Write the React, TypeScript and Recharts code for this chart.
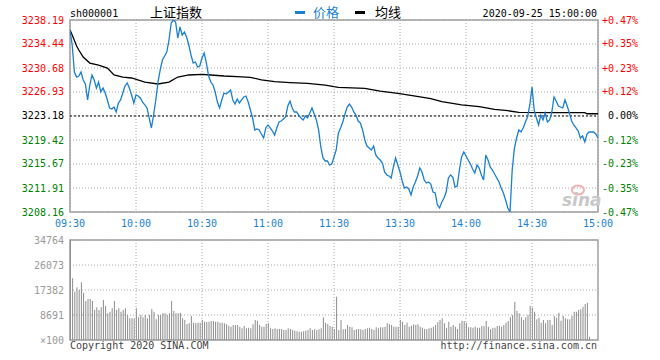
import React from 'react';
import {
  LineChart,
  Line,
  BarChart,
  Bar,
  XAxis,
  YAxis,
  CartesianGrid,
  ReferenceLine,
  ReferenceArea,
} from 'recharts';

const prevClose = 3223.18;

const timeTicks = [0, 30, 60, 90, 120, 150, 180, 210, 240];
const timeLabels = ['09:30', '10:00', '10:30', '11:00', '11:30', '13:30', '14:00', '14:30', '15:00'];

const priceTicks = [3208.16, 3211.91, 3215.67, 3219.42, 3223.18, 3226.93, 3230.68, 3234.44, 3238.19];
const pctLabels = ['-0.47%', '-0.35%', '-0.23%', '-0.12%', '0.00%', '+0.12%', '+0.23%', '+0.35%', '+0.47%'];

const volTicks = [0, 8691, 17382, 26073, 34764];
const volLabels = ['\u00d7100', '8691', '17382', '26073', '34764'];

// one price per minute, 09:30 .. 11:30 then 13:01 .. 15:00
const prices = [
  3236.63, 3234.28, 3230.06, 3229.27, 3229.43, 3230.06, 3228.81, 3228.18, 3225.68, 3228.02,
  3229.59, 3228.81, 3227.55, 3228.49, 3226.93, 3227.55, 3226.77, 3225.68, 3224.43, 3224.27,
  3224.58, 3223.80, 3225.21, 3225.68, 3226.77, 3227.87, 3228.34, 3227.55, 3226.46, 3225.21,
  3226.46, 3226.30, 3225.99, 3225.36, 3224.90, 3224.43, 3222.86, 3221.30, 3223.33, 3225.68,
  3228.49, 3230.37, 3231.93, 3232.56, 3233.18, 3235.06, 3237.72, 3238.19, 3237.88, 3235.37,
  3237.10, 3235.84, 3236.31, 3235.53, 3234.28, 3232.72, 3231.46, 3231.62, 3230.84, 3231.00,
  3232.25, 3233.03, 3231.46, 3229.43, 3228.49, 3228.02, 3226.93, 3225.36, 3224.43, 3225.68,
  3226.77, 3226.62, 3226.93, 3227.24, 3225.68, 3225.05, 3225.83, 3225.21, 3225.68, 3226.15,
  3226.30, 3225.36, 3224.11, 3222.86, 3220.99, 3221.14, 3220.99, 3220.36, 3219.73, 3221.30,
  3221.77, 3221.30, 3220.83, 3220.20, 3221.30, 3222.24, 3222.39, 3222.71, 3223.02, 3224.74,
  3225.52, 3224.43, 3223.80, 3223.80, 3223.33, 3222.86, 3222.55, 3223.18, 3222.86, 3223.64,
  3224.43, 3223.49, 3222.55, 3220.99, 3218.33, 3216.61, 3216.14, 3216.14, 3215.51, 3215.67,
  3216.76, 3217.86, 3220.52, 3221.30, 3222.24, 3223.49, 3224.58, 3225.05, 3224.58, 3223.80,
  3223.33, 3222.39, 3222.08, 3220.99, 3219.42, 3218.48, 3218.17, 3217.86, 3218.48, 3217.08,
  3216.61, 3216.29, 3215.82, 3214.42, 3213.95, 3213.79, 3213.48, 3215.20, 3216.61, 3215.51,
  3214.42, 3213.01, 3211.91, 3212.07, 3211.76, 3210.82, 3212.07, 3212.85, 3213.79, 3215.04,
  3214.42, 3213.16, 3212.70, 3212.85, 3212.54, 3211.29, 3211.13, 3209.25, 3208.79, 3209.72,
  3210.35, 3211.29, 3213.48, 3213.95, 3213.63, 3212.07, 3212.23, 3214.73, 3216.76, 3217.54,
  3216.92, 3216.29, 3215.67, 3214.89, 3214.26, 3215.51, 3215.04, 3213.95, 3213.16, 3217.08,
  3216.29, 3215.20, 3214.73, 3214.10, 3213.48, 3212.85, 3211.91, 3211.13, 3210.04, 3208.79,
  3208.16, 3214.73, 3218.17, 3219.73, 3220.99, 3220.67, 3221.30, 3222.24, 3223.02, 3224.90,
  3227.71, 3224.11, 3222.86, 3221.77, 3223.33, 3222.55, 3223.64, 3222.24, 3222.55, 3223.80,
  3226.15, 3225.52, 3224.74, 3224.58, 3224.43, 3225.68, 3224.74, 3223.64, 3222.39, 3221.77,
  3221.30, 3220.83, 3219.73, 3220.05, 3219.11, 3220.36, 3220.67, 3220.67, 3220.67, 3220.36,
  3219.73,
];

// average price line, read at the minutes where it bends
const avgMinutes = [
  0, 1, 3, 4, 6, 9, 13, 17, 20, 24, 28, 34, 40, 45, 49, 54, 60, 64, 70, 76, 82,
  87, 93, 100, 108, 116, 120, 122, 134, 141, 149, 157, 164, 169, 178, 186, 193,
  199, 204, 219, 234, 235, 240,
];
const avgValues = [
  3236.63, 3235.84, 3234.12, 3233.50, 3232.40, 3231.46, 3231.15, 3230.68, 3229.59, 3229.27,
  3229.12, 3228.49, 3228.18, 3228.49, 3229.27, 3229.59, 3229.70, 3229.59, 3229.43, 3229.32,
  3229.23, 3228.81, 3228.54, 3228.41, 3228.29, 3228.02, 3227.76, 3227.66, 3227.51, 3227.08,
  3226.72, 3226.30, 3225.91, 3225.41, 3224.90, 3224.63, 3224.22, 3224.00, 3223.75, 3223.69,
  3223.69, 3223.53, 3223.53,
];

// volume per minute, in hundreds
const volumes = [
  34764, 21450, 16800, 18310, 17380, 20050, 16450, 13560, 14250, 14250,
  13560, 10430, 11360, 10430, 11360, 13900, 11820, 9270, 9850, 11010,
  13560, 10430, 11010, 9850, 10430, 11010, 8690, 7530, 7530, 7530,
  11010, 7880, 8690, 7880, 8690, 7530, 8690, 10780, 9850, 7180,
  8690, 8690, 9270, 9270, 8690, 9270, 13560, 10080, 9270, 9270,
  9500, 7530, 6950, 5560, 5790, 8340, 6030, 5790, 6030, 6030,
  6950, 6370, 6260, 6370, 6600, 6600, 6370, 6370, 6030, 6030,
  5790, 5450, 4980, 4640, 5210, 5210, 5210, 4640, 4060, 4870,
  4060, 4290, 4060, 5450, 6950, 6720, 5210, 4640, 4640, 5560,
  5790, 4060, 3820, 4060, 3820, 3820, 3820, 3480, 3480, 4060,
  3820, 3480, 3240, 3010, 2900, 2900, 3010, 3240, 3480, 4060,
  3480, 3710, 3480, 3710, 4060, 7880, 6030, 5560, 4870, 4640,
  3820, 15064, 3476, 6953, 3708, 3824, 5215, 4635, 4403, 3476,
  3708, 3824, 3708, 3476, 3824, 4056, 4288, 3824, 3476, 4403,
  4056, 4403, 4403, 4635, 5794, 5446, 5215, 4635, 4635, 4635,
  6953, 6373, 5215, 6026, 4635, 4983, 5446, 5215, 5446, 4635,
  4288, 3824, 3708, 4056, 4288, 4635, 5215, 6142, 6953, 7532,
  5794, 4288, 6373, 4635, 5215, 4635, 3824, 5794, 6721, 6605,
  6026, 4403, 4403, 4288, 4635, 4288, 4288, 4867, 4867, 6605,
  4635, 3708, 4288, 4288, 4867, 4983, 4635, 5215, 6026, 6605,
  7880, 8691, 13326, 10082, 9270, 7880, 6953, 7880, 8691, 11820,
  11240, 9850, 7185, 7764, 6026, 6953, 5794, 6953, 6953, 5215,
  8343, 7764, 9502, 6721, 8343, 7532, 7185, 7185, 8343, 9850,
  9850, 10429, 10661, 11588, 12515, 12979, 1159, 0, 0, 0,
  0,
];

const priceData = prices.map((p, m) => ({ m, price: p }));
const avgData = avgMinutes.map((m, i) => ({ m, avg: avgValues[i] }));
const volData = volumes.map((v, m) => ({ m, vol: v }));

const MONO = '"DejaVu Sans Mono", "Liberation Mono", monospace';
const CJK = '"Noto Sans CJK SC", sans-serif';
const BLUE = '#1a7fd0';
const RED = '#ff0000';
const GREEN = '#008000';
const GRID = '#a8a8a8';
const FRAME = '#a0a0a0';

const colorFor = (v: number) => (v > prevClose + 0.001 ? RED : v < prevClose - 0.001 ? GREEN : '#000');

const PriceTick = ({ x, y, payload }: any) => (
  <text x={x} y={y} dy={3.5} textAnchor="end" fontSize={10} fontFamily={MONO} fill={colorFor(payload.value)}>
    {payload.value.toFixed(2)}
  </text>
);

const PctTick = ({ x, y, payload, index }: any) => (
  <text x={x + 34} y={y} dy={3.5} textAnchor="end" fontSize={10} fontFamily={MONO} fill={colorFor(payload.value)}>
    {pctLabels[index]}
  </text>
);

const TimeTick = ({ x, y, index }: any) => (
  <text x={x} y={y} dy={15} textAnchor="middle" fontSize={10} fontFamily={MONO} fill={BLUE}>
    {timeLabels[index]}
  </text>
);

const VolTick = ({ x, y, index }: any) => (
  <text x={x} y={y} dy={3.5} textAnchor="end" fontSize={10} fontFamily={MONO} fill="#999">
    {volLabels[index]}
  </text>
);

export default function App() {
  return (
    <div style={{ position: 'absolute', left: 0, top: 0, width: 660, height: 360, background: '#fff' }}>
      <div style={{ position: 'absolute', left: 0, top: 0 }}>
        <LineChart width={660} height={235} margin={{ top: 20, right: 0, bottom: 3, left: 0 }}>
          <CartesianGrid stroke={GRID} strokeDasharray="1 2" yAxisId="p" />
          <XAxis
            type="number"
            dataKey="m"
            domain={[0, 240]}
            ticks={timeTicks}
            interval={0}
            height={20}
            axisLine={false}
            tickLine={false}
            tickSize={0}
            tickMargin={0}
            tick={<TimeTick />}
            allowDataOverflow
          />
          <YAxis
            yAxisId="p"
            domain={[3208.16, 3238.19]}
            ticks={priceTicks}
            interval={0}
            width={70}
            axisLine={false}
            tickLine={false}
            tickSize={0}
            tickMargin={6}
            tick={<PriceTick />}
            allowDataOverflow
          />
          <YAxis
            yAxisId="pct"
            orientation="right"
            domain={[3208.16, 3238.19]}
            ticks={priceTicks}
            interval={0}
            width={62}
            axisLine={false}
            tickLine={false}
            tickSize={0}
            tickMargin={6}
            tick={<PctTick />}
            allowDataOverflow
          />
          <ReferenceArea
            yAxisId="p"
            x1={0}
            x2={240}
            y1={3208.16}
            y2={3238.19}
            fill="none"
            stroke={FRAME}
            strokeWidth={1.5}
          />
          <ReferenceLine yAxisId="p" y={prevClose} stroke="#000" strokeDasharray="2 2" />
          <Line
            yAxisId="p"
            data={avgData}
            dataKey="avg"
            type="linear"
            stroke="#000"
            strokeWidth={1.3}
            dot={false}
            isAnimationActive={false}
          />
          <Line
            yAxisId="p"
            data={priceData}
            dataKey="price"
            type="linear"
            stroke={BLUE}
            strokeWidth={1.3}
            dot={false}
            isAnimationActive={false}
          />
        </LineChart>
      </div>

      <div style={{ position: 'absolute', left: 0, top: 230 }}>
        <BarChart width={660} height={120} data={volData} margin={{ top: 10, right: 62, bottom: 10, left: 0 }}>
          <CartesianGrid stroke={GRID} strokeDasharray="1 2" vertical={false} />
          <XAxis
            type="number"
            dataKey="m"
            domain={[0, 240]}
            ticks={timeTicks}
            interval={0}
            height={0}
            axisLine={false}
            tickLine={false}
            tick={false}
          />
          <YAxis
            domain={[0, 34764]}
            ticks={volTicks}
            interval={0}
            width={70}
            axisLine={false}
            tickLine={false}
            tickSize={0}
            tickMargin={6}
            tick={<VolTick />}
          />
          {timeTicks.slice(1, -1).map((t) => (
            <ReferenceLine key={t} x={t} stroke={GRID} strokeDasharray="1 2" />
          ))}
          <ReferenceArea x1={0} x2={240} y1={0} y2={34764} fill="none" stroke={FRAME} strokeWidth={1.5} />
          <Bar dataKey="vol" fill="#8c8c8c" barSize={1} isAnimationActive={false} />
        </BarChart>
      </div>

      <svg width={660} height={360} style={{ position: 'absolute', left: 0, top: 0, pointerEvents: 'none' }}>
        <text x={70} y={17} fontSize={10} fontFamily={MONO} fill="#000">sh000001</text>
        <text x={150} y={17} fontSize={13} fontFamily={CJK} fill="#000">上证指数</text>
        <rect x={295} y={11} width={10} height={3} fill={BLUE} />
        <text x={313} y={17} fontSize={13} fontFamily={CJK} fill={BLUE}>价格</text>
        <rect x={355} y={11} width={10} height={3} fill="#000" />
        <text x={375} y={17} fontSize={13} fontFamily={CJK} fill="#000">均线</text>
        <text x={597} y={17} fontSize={10} fontFamily={MONO} textAnchor="end" fill="#000">2020-09-25 15:00:00</text>
        <text x={70} y={349} fontSize={10} fontFamily={MONO} fill="#444">Copyright 2020 SINA.COM</text>
        <text x={597} y={349} fontSize={10} fontFamily={MONO} textAnchor="end" fill="#444">http://finance.sina.com.cn</text>
        <ellipse cx={578} cy={190} rx={6} ry={4.5} fill="none" stroke="#f0b0b0" strokeWidth={2} />
        <text x={562} y={206} fontSize={17} fontStyle="italic" fontWeight="bold" fontFamily='"DejaVu Sans", sans-serif' fill="#c8c8c8">sina</text>
      </svg>
    </div>
  );
}
